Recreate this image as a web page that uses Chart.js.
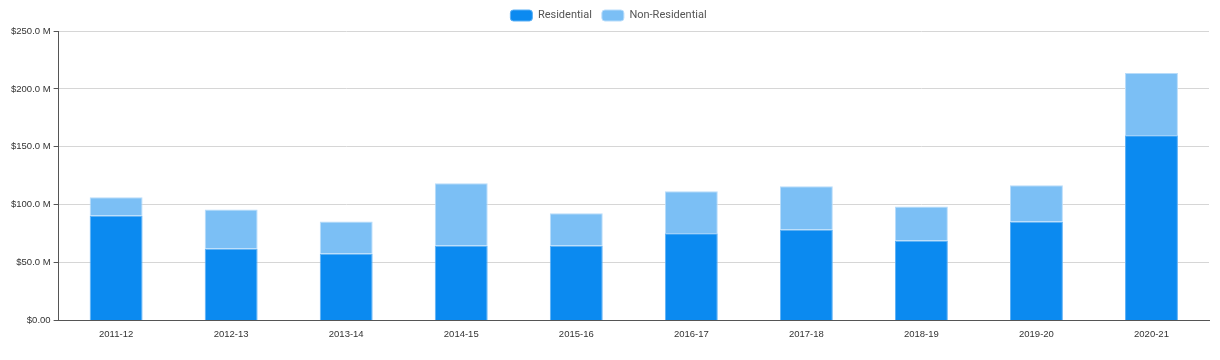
<!DOCTYPE html>
<html>
<head>
<meta charset="utf-8">
<script src="https://cdn.jsdelivr.net/npm/chart.js@4/dist/chart.umd.min.js"></script>
<style>
  html, body { margin: 0; padding: 0; background: #fff; }
  #wrap { width: 1220px; height: 360px; }
</style>
</head>
<body>
<div id="wrap"><canvas id="chart"></canvas></div>
<script>
// Values in $ millions
const years = ["2011-12", "2012-13", "2013-14", "2014-15", "2015-16", "2016-17", "2017-18", "2018-19", "2019-20", "2020-21"];
const residential = [90.8, 62.3, 58.0, 64.9, 64.9, 75.3, 78.7, 69.2, 85.6, 160.0];
const nonResidential = [15.6, 33.7, 27.6, 53.6, 27.7, 36.3, 37.2, 29.4, 31.2, 53.7];

Chart.defaults.font.family = "Roboto, 'Liberation Sans', sans-serif";
Chart.defaults.color = "#555";

const tickFont = { family: "'Liberation Sans', Arial, sans-serif", size: 9.5 };

function money(v) {
    if (v === 0) return "$0.00";
    return "$" + v.toFixed(1) + " M";
}

const ctx = document.getElementById("chart").getContext("2d");
new Chart(ctx, {
    type: "bar",
    data: {
        labels: years,
        datasets: [{
            label: "Residential",
            data: residential,
            backgroundColor: "#0b8af0",
            borderColor: "#5db0f5",
            borderWidth: 1,
            barPercentage: 0.92,
            categoryPercentage: 0.5
        }, {
            label: "Non-Residential",
            data: nonResidential,
            backgroundColor: "#7bbff5",
            borderColor: "#b8dcfa",
            borderWidth: 1,
            barPercentage: 0.92,
            categoryPercentage: 0.5
        }]
    },
    options: {
        responsive: true,
        maintainAspectRatio: false,
        animation: false,
        layout: { padding: { left: 8, right: 11, top: 0, bottom: 17 } },
        plugins: {
            legend: {
                position: "top",
                labels: {
                    boxWidth: 22,
                    boxHeight: 11,
                    useBorderRadius: true,
                    borderRadius: 3,
                    padding: 10,
                    font: { size: 11 },
                    color: "#555"
                }
            },
            tooltip: { enabled: false }
        },
        scales: {
            x: {
                stacked: true,
                grid: { display: false, drawTicks: true, tickLength: 5 },
                border: { color: "#555", width: 1 },
                ticks: { font: tickFont, color: "#333", maxRotation: 0 }
            },
            y: {
                stacked: true,
                min: 0,
                max: 250,
                grid: { color: "#d6d6d6", tickLength: 5, tickColor: "#555" },
                border: { color: "#555", width: 1 },
                ticks: {
                    stepSize: 50,
                    font: tickFont,
                    color: "#333",
                    callback: (v) => money(v)
                }
            }
        }
    }
});
</script>
</body>
</html>
